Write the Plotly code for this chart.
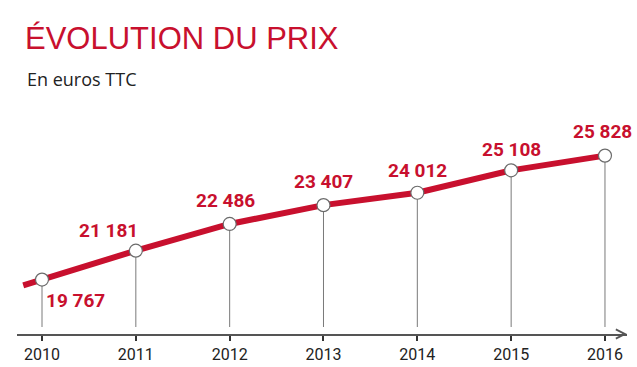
import plotly.graph_objects as go

years = [2010, 2011, 2012, 2013, 2014, 2015, 2016]
prices = [19767, 21181, 22486, 23407, 24012, 25108, 25828]
tick_labels = [str(y) for y in years]
title_text = "ÉVOLUTION DU PRIX"
subtitle_text = "En euros TTC"

RED = "#c8102e"
W, H = 637, 367
ML, MR, MT, MB = 17, 10, 0, 33
plot_w = W - ML - MR
plot_h = H - MT - MB

x_range = [2009.7336, 2016.2347]
y_range = [17105, 33438]

# label pixel offsets (style): (xshift, yshift)
label_offsets = [(33, -21), (-27, 20), (-4, 23), (0, 24), (0, 22), (0, 21), (-2, 24)]

def fmt(v):
    return f"{v:,}".replace(",", " ")

# floor for drop lines: 7 px above the axis line
floor = y_range[0] + 7 / plot_h * (y_range[1] - y_range[0])

drop_x, drop_y = [], []
for x, v in zip(years, prices):
    drop_x += [x, x, None]
    drop_y += [v, floor, None]

# short decorative lead-in extending the first segment backwards
lead = 0.2
lx = years[0] - lead
ly = prices[0] - lead * (prices[1] - prices[0]) / (years[1] - years[0])

fig = go.Figure()
fig.add_trace(go.Scatter(x=drop_x, y=drop_y, mode="lines",
                         line=dict(color="#7a7a7a", width=1), hoverinfo="skip"))
fig.add_trace(go.Scatter(x=[lx] + years, y=[ly] + prices, mode="lines",
                         line=dict(color=RED, width=6), hoverinfo="skip"))
fig.add_trace(go.Scatter(x=years, y=prices, mode="markers",
                         marker=dict(size=13, color="white",
                                     line=dict(color="#6b6b6b", width=1.2))))

for (x, v), (dx, dy) in zip(zip(years, prices), label_offsets):
    fig.add_annotation(x=x, y=v, text=f"<b>{fmt(v)}</b>", showarrow=False,
                       xshift=dx, yshift=dy,
                       font=dict(family="Roboto", size=19, color=RED))

fig.add_annotation(xref="paper", yref="paper", x=(23 - ML) / plot_w,
                   y=1 - 38.5 / plot_h, xanchor="left", yanchor="middle",
                   text=title_text, showarrow=False,
                   font=dict(family="Liberation Sans", size=31, color=RED))
fig.add_annotation(xref="paper", yref="paper", x=(25 - ML) / plot_w,
                   y=1 - 79 / plot_h, xanchor="left", yanchor="middle",
                   text=subtitle_text, showarrow=False,
                   font=dict(family="Open Sans", size=18, color="#222222"))

# arrow head at the end of the x axis
fig.add_annotation(xref="paper", yref="paper", x=1, y=0, ax=-6, ay=0,
                   showarrow=True, arrowhead=5, arrowsize=1.2, arrowwidth=1.5,
                   arrowcolor="#555555", text="")

fig.update_layout(
    width=W, height=H, showlegend=False,
    margin=dict(l=ML, r=MR, t=MT, b=MB, autoexpand=False),
    paper_bgcolor="white", plot_bgcolor="white",
    xaxis=dict(range=x_range, tickvals=years, ticktext=tick_labels,
               showgrid=False, zeroline=False, showline=True, automargin=False,
               linecolor="#555555", linewidth=1.5,
               ticks="outside", ticklen=5, tickwidth=2, tickcolor="#333333",
               tickfont=dict(family="Roboto", size=16, color="#222222"),
               fixedrange=True),
    yaxis=dict(range=y_range, visible=False, fixedrange=True),
)

fig.write_html("out.html", config={"displayModeBar": False},
               post_script="document.body.style.margin='0';")
